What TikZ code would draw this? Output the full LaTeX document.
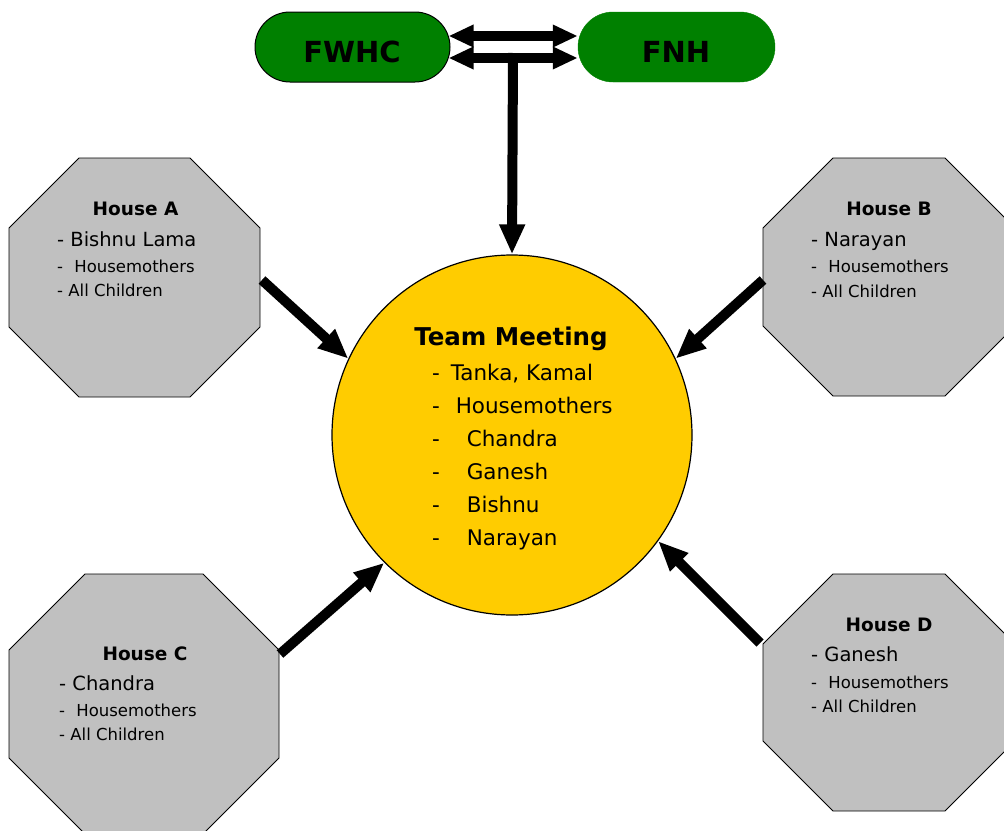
\documentclass[tikz,border=0pt]{standalone}
\usepackage{fontspec}
\setmainfont{DejaVu Sans}
\usetikzlibrary{arrows.meta,calc,shapes.misc}
\definecolor{boxgreen}{RGB}{0,128,0}
\definecolor{gold}{RGB}{255,204,0}
\definecolor{housegray}{RGB}{192,192,192}
\begin{document}
\begin{tikzpicture}[x=1pt,y=-1pt,
  house/.style={draw=black,fill=housegray,line width=0.9pt},
  pill/.style={rounded rectangle,minimum height=70pt,inner sep=0pt,fill=boxgreen},
  ptext/.style={inner sep=0pt,anchor=base,font=\fontsize{29}{31}\selectfont\bfseries},
  title/.style={inner sep=0pt,anchor=base,font=\fontsize{18.5}{20}\selectfont\bfseries},
  big/.style={inner sep=0pt,anchor=base west,font=\fontsize{19.5}{21}\selectfont},
  small/.style={inner sep=0pt,anchor=base west,font=\fontsize{16.5}{18}\selectfont},
  ctitle/.style={inner sep=0pt,anchor=base,font=\fontsize{24.5}{26}\selectfont\bfseries},
  citem/.style={inner sep=0pt,anchor=base west,font=\fontsize{21.5}{23}\selectfont},
  arr/.style={line width=10pt,-{Triangle[width=24pt,length=30pt]}},
  dbl/.style={line width=10pt,{Triangle[width=21pt,length=25pt]}-{Triangle[width=21pt,length=25pt]}}]
\useasboundingbox (0,0) rectangle (1004,830);
\clip (0,0) rectangle (1004,830);

% top boxes
\node[pill,draw=black,line width=1pt,minimum width=195pt] (fw) at (352.5,47) {};
\node[pill,draw=boxgreen,minimum width=197pt] (fn) at (676.5,47) {};
\node[ptext] (fwt) at (352,62) {FWHC};
\node[ptext] (fnt) at (676,62) {FNH};

% octagons
\draw[house] (79,158) -- (190,158) -- (260,228) -- (260,327) -- (190,397) -- (79,397) -- (9,327) -- (9,228) -- cycle;
\draw[house] (833,158) -- (945,158) -- (1015,228) -- (1015,326) -- (945,396) -- (833,396) -- (763,326) -- (763,228) -- cycle;
\draw[house] (85,574) -- (203,574) -- (279,650) -- (279,758) -- (203,834) -- (85,834) -- (9,758) -- (9,650) -- cycle;
\draw[house] (833,574) -- (945,574) -- (1015,644) -- (1015,741) -- (945,811) -- (833,811) -- (763,741) -- (763,644) -- cycle;

% circle
\node[circle,draw=black,line width=1.2pt,fill=gold,minimum size=360pt,inner sep=0pt] (tm) at (512,435) {};

% House A text
\node[title] (ha) at (135.5,215) {House A};
\node[big] (ha1) at (57,246.7) {- Bishnu Lama};
\node[small] (ha2) at (57,272.7) {-\hspace{6pt} Housemothers};
\node[small] (ha3) at (57,296.7) {- All Children};
% House B text
\node[title] (hb) at (889,215) {House B};
\node[big] (hb1) at (811,246.7) {- Narayan};
\node[small] (hb2) at (811,272.7) {-\hspace{6pt} Housemothers};
\node[small] (hb3) at (811,297) {- All Children};
% House C text
\node[title] (hc) at (145,660) {House C};
\node[big] (hc1) at (59,690) {- Chandra};
\node[small] (hc2) at (59,716.7) {-\hspace{6pt} Housemothers};
\node[small] (hc3) at (59,740) {- All Children};
% House D text
\node[title] (hd) at (889,631.7) {House D};
\node[big] (hd1) at (811,661.7) {- Ganesh};
\node[small] (hd2) at (811,688.3) {-\hspace{6pt} Housemothers};
\node[small] (hd3) at (811,712.3) {- All Children};

% circle text
\node[ctitle] (tmt) at (511,345) {Team Meeting};
\node[citem] (t1) at (432,380) {-\hspace{4pt} Tanka, Kamal};
\node[citem] (t2) at (432,413.3) {-\hspace{9pt} Housemothers};
\node[citem] (t3) at (432,446.7) {-\hspace{20pt} Chandra};
\node[citem] (t4) at (432,479) {-\hspace{20pt} Ganesh};
\node[citem] (t5) at (432,512.3) {-\hspace{20pt} Bishnu};
\node[citem] (t6) at (432,545.7) {-\hspace{20pt} Narayan};

% connectors
\draw[dbl] ($(fw.east)+(-2,-11)$) -- ($(fn.west)+(0,-11)$);
\draw[dbl] ($(fw.east)+(-2,11)$) -- ($(fn.west)+(0,11)$);
\coordinate (j) at (513,53);
\draw[arr] (j) -- (tm.90);

\coordinate (aout) at (262,280);
\coordinate (bout) at (763,280);
\coordinate (cout) at (280,654);
\coordinate (dout) at (760,643);
\draw[arr] (aout) -- (tm.155);
\draw[arr] (bout) -- (tm.25);
\draw[arr] (cout) -- (tm.225);
\draw[arr] (dout) -- (tm.324);
\end{tikzpicture}
\end{document}
